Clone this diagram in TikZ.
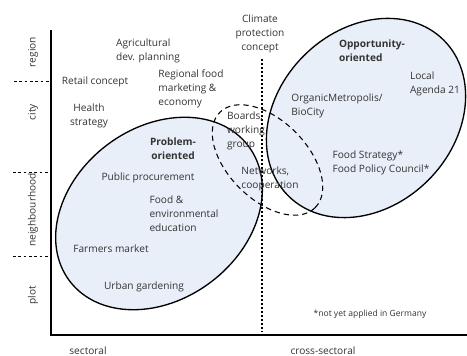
\documentclass[tikz,border=0pt]{standalone}
\usepackage{fontspec}
\setmainfont{Open Sans}
\usetikzlibrary{positioning}

\definecolor{fieldblue}{RGB}{233,239,248}

\begin{document}
\begin{tikzpicture}[
  x=7.5pt, y=7.5pt,
  txt/.style = {text=black!80, font=\fontsize{7.6}{10.5}\selectfont, align=left, inner sep=0pt},
  ctxt/.style = {txt, align=center},
  head/.style = {txt, font=\fontsize{7.6}{10.5}\selectfont\bfseries},
  note/.style = {txt, font=\fontsize{6.4}{8}\selectfont},
  scalelbl/.style = {txt, rotate=90},
  field/.style = {draw, line width=1pt, fill=fieldblue},
  overlap/.style = {draw, line width=0.8pt, dash pattern=on 4pt off 3pt},
  axis/.style = {line width=1.3pt},
  divider/.style = {line width=0.6pt, dash pattern=on 2pt off 2pt},
  dotline/.style = {line width=1pt, dotted}
]
  \useasboundingbox (0,0) rectangle (46.7,35.6);

  % Fields of action
  \draw[field, rotate around={37:(15.9,14.25)}] (15.9,14.25) ellipse [x radius=11.2, y radius=8.6];
  \draw[field, rotate around={45:(36.6,23.8)}] (36.6,23.8) ellipse [x radius=11.0, y radius=8.8];
  \draw[overlap, rotate around={-45:(26.75,19.6)}] (26.75,19.6) ellipse [x radius=6.74, y radius=3.95];

  % Axes
  \coordinate (origin) at (5.1,2.1);
  \coordinate (ytop) at (5.1,32.6);
  \coordinate (xend) at (46.7,2.1);
  \draw[axis] (ytop) -- (origin) -- (xend);

  % Spatial scale
  \node[scalelbl] (region) at (3.3,30.4) {region};
  \node[scalelbl] (city) at (3.3,24.4) {city};
  \node[scalelbl] (hood) at (3.3,14.6) {neighbourhood};
  \node[scalelbl] (plot) at (3.3,6.1) {plot};
  \coordinate (cut1) at (1.4,27.5);
  \coordinate (cut2) at (1.3,18.4);
  \coordinate (cut3) at (1.3,10.0);
  \draw[divider] (cut1) -- (cut1 -| origin);
  \draw[divider] (cut2) -- (cut2 -| origin);
  \draw[divider] (cut3) -- (cut3 -| origin);

  % Sectoral / cross-sectoral
  \node[txt, anchor=south] (sectoral) at (8.8,0.1) {sectoral};
  \node[txt, anchor=south] (cross) at (32.3,0.1) {cross-sectoral};

  % Climate protection, dividing line
  \node[ctxt] (climate) at (26.0,32.2) {Climate\\protection\\concept};
  \coordinate (climatefoot) at (26.2,2.4);
  \draw[dotline] (climate.south -| climatefoot) ++(0,-0.6) -- (climatefoot);

  % Sectoral measures
  \node[txt] (agri) at (14.8,30.5) {Agricultural\\dev. planning};
  \node[txt] (retail) at (9.5,27.4) {Retail concept};
  \node[txt] (regional) at (19.1,26.7) {Regional food\\marketing \&\\economy};
  \node[ctxt] (health) at (8.9,24.0) {Health\\strategy};

  % Problem-oriented
  \node[head, align=center] (problem) at (17.3,20.7) {Problem-\\oriented};
  \node[txt] (procure) at (14.8,17.8) {Public procurement};
  \node[txt] (edu) at (18.4,14.2) {Food \&\\environmental\\education};
  \node[txt] (farmers) at (11.1,10.7) {Farmers market};
  \node[txt] (urban) at (14.4,6.9) {Urban gardening};

  % Overlap
  \node[txt] (boards) at (24.6,22.5) {Boards,\\working\\group};
  \node[txt] (networks) at (27.0,17.7) {Networks,\\cooperation};

  % Opportunity-oriented
  \node[head] (opportunity) at (37.2,30.5) {Opportunity-\\oriented};
  \node[txt] (agenda) at (43.5,27.2) {Local\\Agenda 21};
  \node[txt] (organic) at (33.7,25.0) {OrganicMetropolis/\\BioCity};
  \node[txt] (foodpolicy) at (38.1,19.3) {Food Strategy*\\Food Policy Council*};

  % Footnote
  \node[note] (footnote) at (37.0,4.2) {*not yet applied in Germany};

\end{tikzpicture}
\end{document}
